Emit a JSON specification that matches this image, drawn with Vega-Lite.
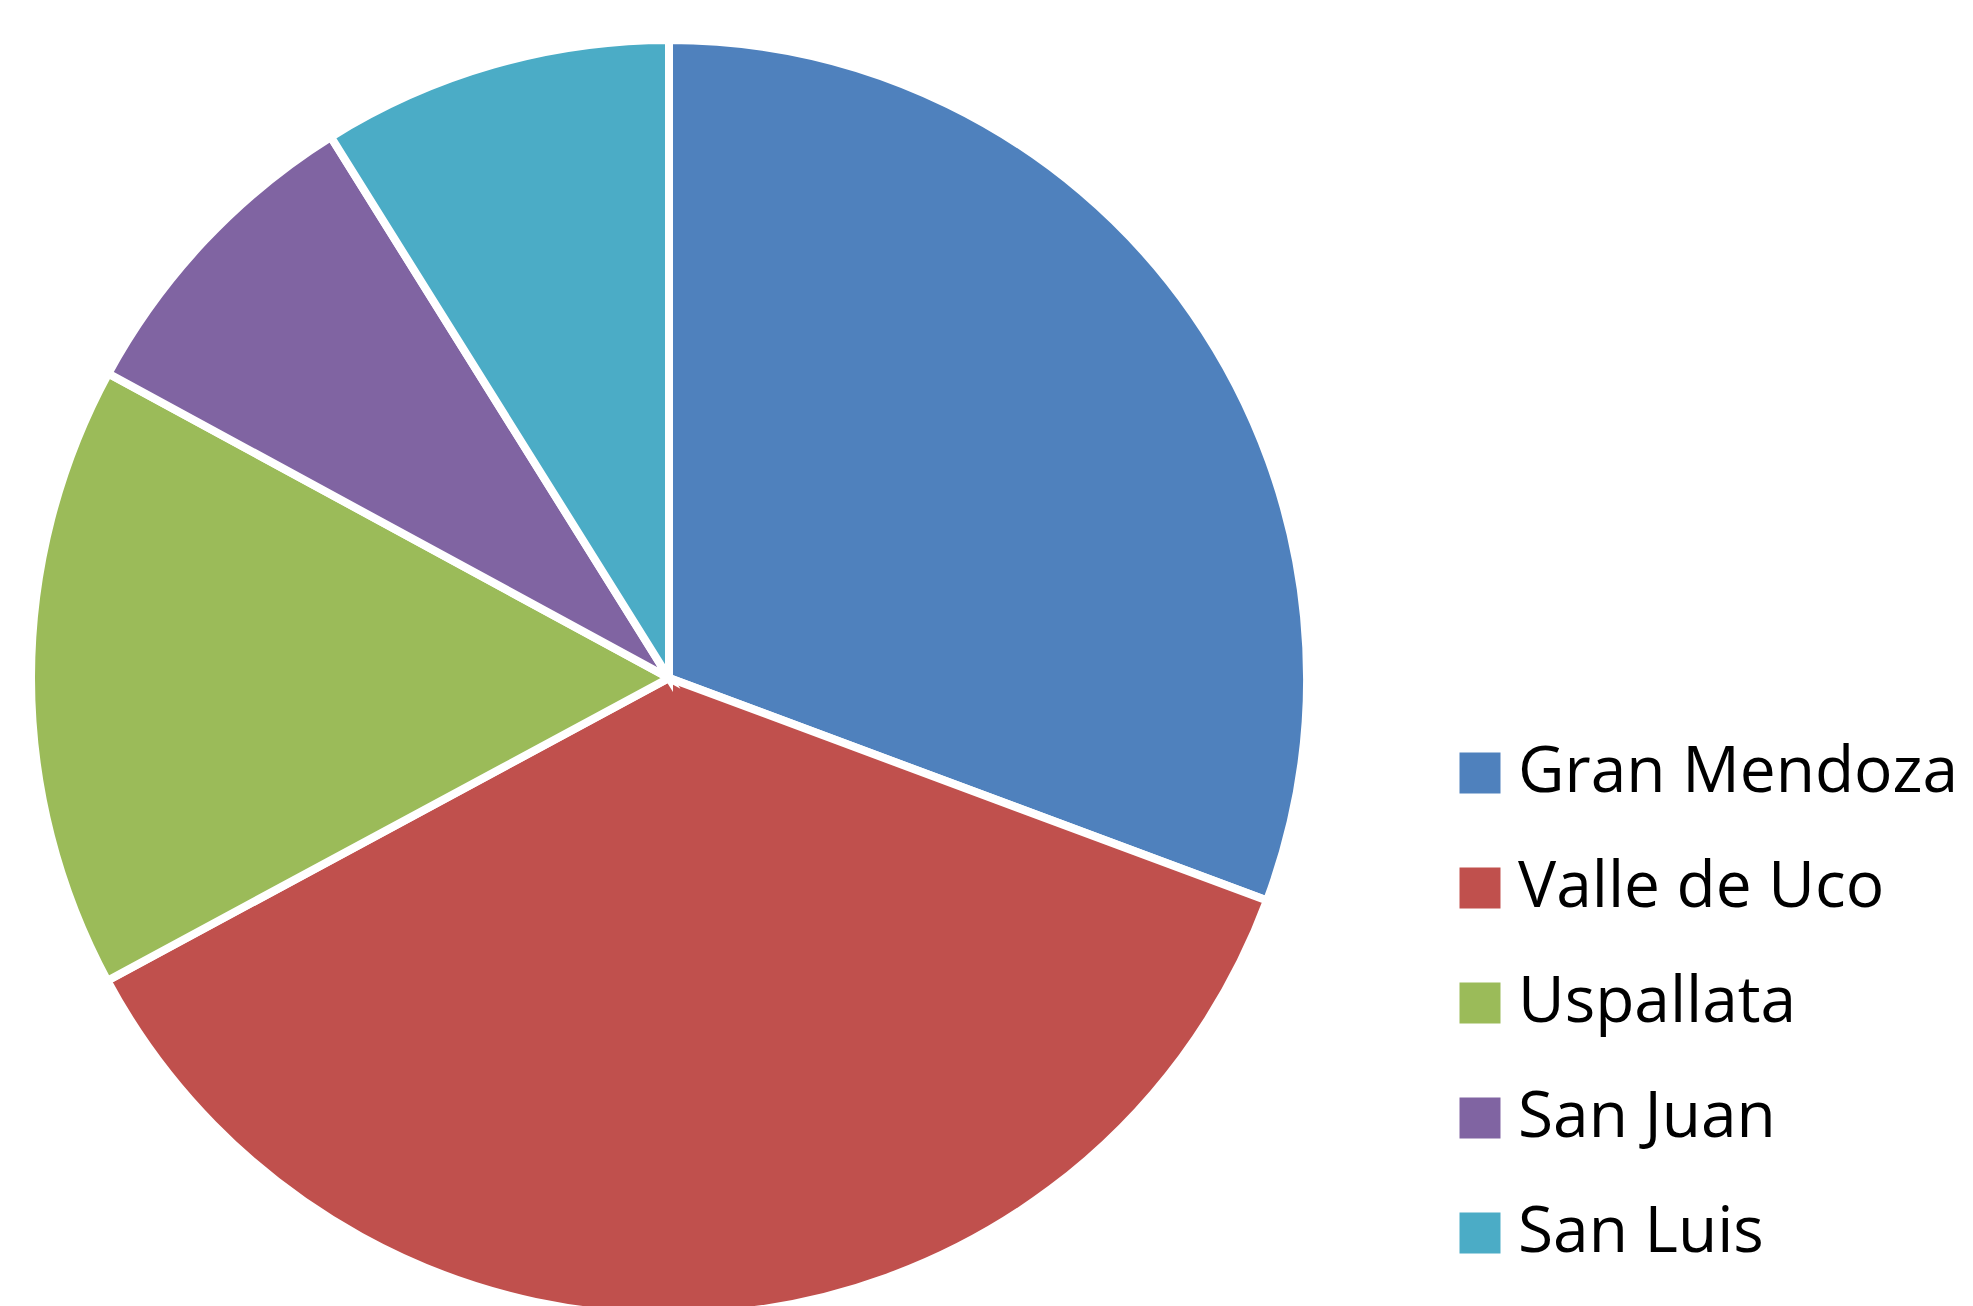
{
  "$schema": "https://vega.github.io/schema/vega-lite/v6.json",
  "width": 1276,
  "height": 1276,
  "padding": {"left": 15, "top": 24, "right": 0, "bottom": 0},
  "autosize": {"type": "pad"},
  "background": "white",
  "data": {
    "values": [
      {"region": "Gran Mendoza", "share": 30.7, "idx": 1},
      {"region": "Valle de Uco", "share": 36.5, "idx": 2},
      {"region": "Uspallata", "share": 15.8, "idx": 3},
      {"region": "San Juan", "share": 8.2, "idx": 4},
      {"region": "San Luis", "share": 8.9, "idx": 5}
    ]
  },
  "mark": {"type": "arc", "stroke": "white", "strokeWidth": 8},
  "encoding": {
    "theta": {"field": "share", "type": "quantitative", "stack": true},
    "order": {"field": "idx", "type": "quantitative"},
    "color": {
      "field": "region",
      "type": "nominal",
      "sort": ["Gran Mendoza", "Valle de Uco", "Uspallata", "San Juan", "San Luis"],
      "scale": {
        "domain": ["Gran Mendoza", "Valle de Uco", "Uspallata", "San Juan", "San Luis"],
        "range": ["#4F81BD", "#C0504D", "#9BBB59", "#8064A2", "#4BACC6"]
      },
      "legend": {
        "title": null,
        "orient": "none",
        "legendX": 1417,
        "legendY": 701,
        "symbolType": "square",
        "symbolSize": 1680,
        "symbolStrokeWidth": 0,
        "symbolOpacity": 1,
        "labelFont": "Open Sans",
        "labelFontSize": 64,
        "labelColor": "black",
        "labelOffset": 6,
        "labelLimit": 700,
        "rowPadding": 51
      }
    }
  },
  "config": {"view": {"stroke": null}}
}
